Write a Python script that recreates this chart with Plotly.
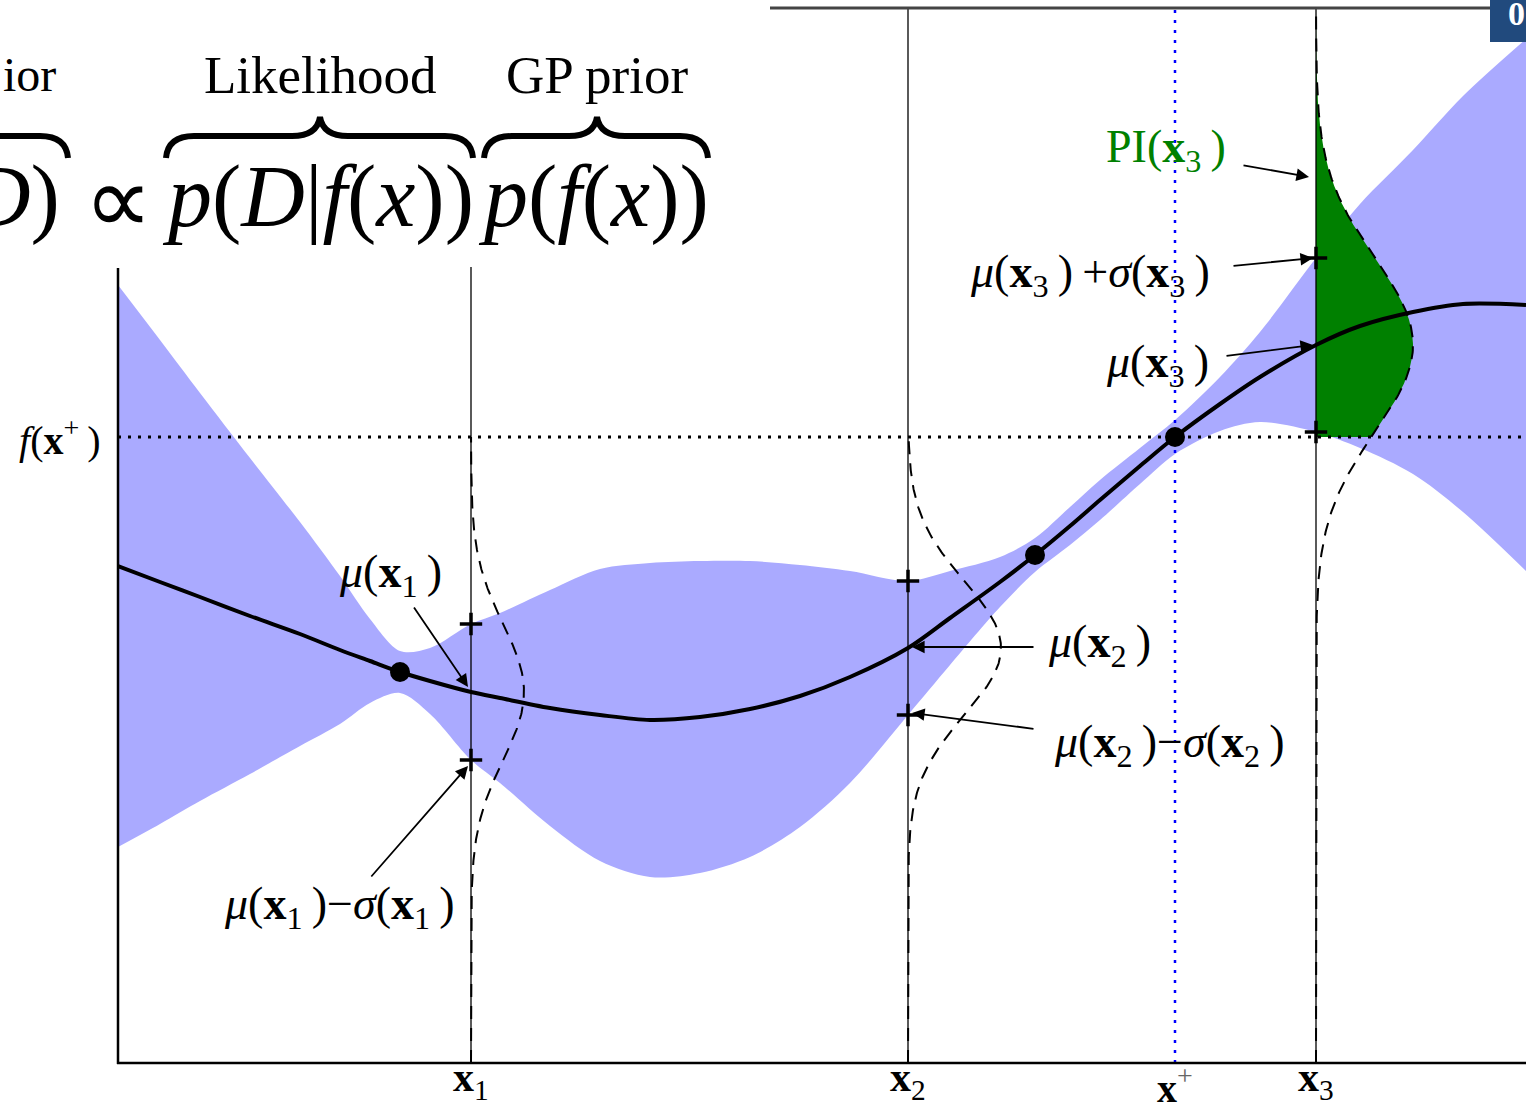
import numpy as np
import plotly.graph_objects as go

# ---------------- data ----------------
# GP posterior: grid positions, posterior mean and standard deviation
x_grid = [0.00, 0.42, 0.82, 1.32, 1.82, 2.22, 2.52, 2.82, 3.12, 3.53, 3.82, 4.32, 4.82,
          5.32, 5.82, 6.32, 6.82, 7.32, 7.90, 8.32, 8.82, 9.17, 9.52, 9.82, 10.22, 10.57,
          11.02, 11.42, 11.98, 12.42, 12.95, 13.45, 14.08]
mean_f = [4.97, 4.81, 4.66, 4.47, 4.29, 4.13, 4.02, 3.91, 3.82, 3.71, 3.65, 3.55, 3.48,
          3.43, 3.46, 3.54, 3.67, 3.86, 4.15, 4.45, 4.81, 5.08, 5.37, 5.63, 5.97, 6.26,
          6.59, 6.86, 7.18, 7.37, 7.51, 7.59, 7.58]
sigma_f = [2.81, 2.42, 2.04, 1.58, 1.12, 0.74, 0.42, 0.21, 0.33, 0.68, 0.85, 1.18, 1.46,
           1.57, 1.56, 1.48, 1.31, 1.06, 0.67, 0.47, 0.25, 0.17, 0.19, 0.20, 0.18, 0.17,
           0.27, 0.45, 0.87, 1.22, 1.62, 2.08, 2.66]

# observations
obs_x = [2.82, 9.17, 10.57]
obs_y = [3.91, 5.08, 6.26]

# candidate points x1, x2, x3
cand_labels = ["<b>x</b><sub>1</sub>", "<b>x</b><sub>2</sub>", "<b>x</b><sub>3</sub>"]
cand_x = [3.53, 7.90, 11.98]
cand_mu = [3.71, 4.15, 7.18]
cand_sigma = [0.68, 0.67, 0.87]
cand_pdf_width = [0.53, 0.93, 0.97]

# incumbent
x_best = 10.57
f_best = 6.26
best_label = "<b>x</b><sup><span style='color:#666'>+</span></sup>"

x_max = 14.08
y_max = 10.55

# ---------------- layout constants ----------------
W, H = 1526, 1111
ML, MR, MT, MB = 118, 0, 8, 48
SERIF = "Liberation Serif, Times New Roman, serif"
BAND = "#aaaaff"
GREEN = "#008000"


def PX(px):
    return (px - ML) / (W - ML - MR)


def PY(py):
    return (H - MB - py) / (H - MT - MB)


xg = np.array(x_grid)
mu = np.array(mean_f)
sd = np.array(sigma_f)

fig = go.Figure()

# uncertainty band
fig.add_trace(go.Scatter(x=xg, y=mu - sd, mode="lines",
                         line=dict(width=0, shape="spline", smoothing=0.9), hoverinfo="skip"))
fig.add_trace(go.Scatter(x=xg, y=mu + sd, mode="lines",
                         line=dict(width=0, shape="spline", smoothing=0.9), fill="tonexty",
                         fillcolor=BAND, hoverinfo="skip"))


def pdf_curve(i, y):
    g = np.exp(-0.5 * ((y - cand_mu[i]) / cand_sigma[i]) ** 2)
    return cand_x[i] + cand_pdf_width[i] * g


# PI area for x3 (tail of the predictive density above f(x+))
yy = np.linspace(f_best, y_max, 300)
xx = pdf_curve(2, yy)
fig.add_trace(go.Scatter(x=np.concatenate([xx, [cand_x[2], cand_x[2]]]),
                         y=np.concatenate([yy, [y_max, f_best]]),
                         mode="lines", line=dict(width=0), fill="toself",
                         fillcolor=GREEN, hoverinfo="skip"))

# f(x+) dotted line
fig.add_trace(go.Scatter(x=[0, x_max], y=[f_best, f_best], mode="lines",
                         line=dict(color="black", width=3, dash="3px,7px")))

# vertical lines at candidates
for cx in cand_x:
    fig.add_trace(go.Scatter(x=[cx, cx], y=[0, y_max], mode="lines",
                             line=dict(color="black", width=1.3)))

# x+ blue dotted line
fig.add_trace(go.Scatter(x=[x_best, x_best], y=[0, y_max], mode="lines",
                         line=dict(color="#0000ff", width=2.5, dash="3px,7px")))

# predictive densities (dashed)
for i in range(3):
    top = y_max if i == 2 else f_best
    yv = np.linspace(0, top, 500)
    fig.add_trace(go.Scatter(x=pdf_curve(i, yv), y=yv, mode="lines",
                             line=dict(color="black", width=2, dash="13px,9px")))

# posterior mean
fig.add_trace(go.Scatter(x=xg, y=mu, mode="lines",
                         line=dict(color="black", width=4, shape="spline", smoothing=0.9)))

# mu +/- sigma markers
pm_x, pm_y = [], []
for i in range(3):
    pm_x += [cand_x[i], cand_x[i]]
    pm_y += [cand_mu[i] + cand_sigma[i], cand_mu[i] - cand_sigma[i]]
fig.add_trace(go.Scatter(x=pm_x, y=pm_y, mode="markers",
                         marker=dict(symbol="cross-thin", size=16,
                                     line=dict(color="black", width=3.5))))

# observations
fig.add_trace(go.Scatter(x=obs_x, y=obs_y, mode="markers",
                         marker=dict(color="black", size=20)))

# ---------------- frame & overlay shapes ----------------
shapes = []
ln = dict(color="black", width=2.5)
shapes.append(dict(type="line", xref="paper", yref="paper",
                   x0=PX(118), x1=PX(118), y0=PY(268), y1=PY(1064), line=ln))
shapes.append(dict(type="line", xref="paper", yref="paper",
                   x0=PX(117), x1=PX(1530), y0=PY(1063), y1=PY(1063), line=ln))
shapes.append(dict(type="line", xref="paper", yref="paper",
                   x0=PX(770), x1=PX(1492), y0=PY(8), y1=PY(8),
                   line=dict(color="#444", width=3)))
# white area of the equation image (covers top-left)
shapes.append(dict(type="rect", xref="paper", yref="paper", layer="above",
                   x0=PX(-5), x1=PX(770), y0=PY(267), y1=PY(-5),
                   fillcolor="white", line=dict(width=0)))


def brace(x0, x1, xm, ybar, yend, ytip, r=28):
    p = (f"M {PX(x0)},{PY(yend)} Q {PX(x0 + 2)},{PY(ybar)} {PX(x0 + r)},{PY(ybar)} "
         f"L {PX(xm - r)},{PY(ybar)} Q {PX(xm - 3)},{PY(ybar)} {PX(xm)},{PY(ytip)} "
         f"Q {PX(xm + 3)},{PY(ybar)} {PX(xm + r)},{PY(ybar)} "
         f"L {PX(x1 - r)},{PY(ybar)} Q {PX(x1 - 2)},{PY(ybar)} {PX(x1)},{PY(yend)}")
    return dict(type="path", xref="paper", yref="paper", layer="above", path=p,
                line=dict(color="black", width=6))


shapes.append(dict(type="path", xref="paper", yref="paper", layer="above",
                   path=(f"M {PX(-10)},{PY(136)} L {PX(40)},{PY(136)} "
                         f"Q {PX(66)},{PY(136)} {PX(68)},{PY(158)}"),
                   line=dict(color="black", width=6)))
shapes.append(brace(166, 473, 320, 136, 158, 117))
shapes.append(brace(484, 708, 597, 136, 158, 117))

# top-right slide badge
shapes.append(dict(type="rect", xref="paper", yref="paper", layer="above",
                   x0=PX(1490), x1=PX(1535), y0=PY(42), y1=PY(-5),
                   fillcolor="#214a7d", line=dict(width=0)))

# ---------------- annotations ----------------
ann = []


def text(px, py, s, size=46, color="black", xanchor="center", yanchor="middle"):
    ann.append(dict(x=PX(px), y=PY(py), xref="paper", yref="paper", text=s,
                    showarrow=False, xanchor=xanchor, yanchor=yanchor,
                    font=dict(family=SERIF, size=size, color=color)))


def arrow(hx, hy, tx, ty):
    ann.append(dict(x=PX(hx), y=PY(hy), xref="paper", yref="paper", text="",
                    showarrow=True, ax=tx - hx, ay=ty - hy, arrowhead=2,
                    arrowsize=1.4, arrowwidth=1.8, arrowcolor="black"))


T = "\u2009"
mu1 = f"<i>μ</i>(<b>x</b><sub>1</sub>{T})"
sg1 = f"<i>σ</i>(<b>x</b><sub>1</sub>{T})"
mu2 = f"<i>μ</i>(<b>x</b><sub>2</sub>{T})"
sg2 = f"<i>σ</i>(<b>x</b><sub>2</sub>{T})"
mu3 = f"<i>μ</i>(<b>x</b><sub>3</sub>{T})"
sg3 = f"<i>σ</i>(<b>x</b><sub>3</sub>{T})"

text(60, 437, f"<i>f</i>(<b>x</b><sup>+</sup>{T})", size=40)
text(390, 575, mu1)
arrow(468, 687, 413, 606)
text(339, 907, f"{mu1}−{sg1}")
arrow(468, 766, 370, 878)
text(1099, 645, mu2)
arrow(912, 647, 1035, 647)
text(1169, 745, f"{mu2}−{sg2}")
arrow(912, 713, 1035, 729)
text(1157, 365, mu3)
arrow(1313, 345, 1225, 356)
text(1090, 275, f"{mu3}{T}+{sg3}")
arrow(1313, 258, 1232, 266)
text(1166, 150, f"PI(<b>x</b><sub>3</sub>{T})", color=GREEN)
arrow(1309, 177, 1242, 165)

# x tick labels
for cx, lab in zip(cand_x, cand_labels):
    ann.append(dict(x=cx, y=PY(1052), xref="x", yref="paper", text=lab,
                    showarrow=False, xanchor="center", yanchor="top",
                    font=dict(family=SERIF, size=42, color="black")))
ann.append(dict(x=x_best, y=PY(1058), xref="x", yref="paper", text=best_label,
                showarrow=False, xanchor="center", yanchor="top",
                font=dict(family=SERIF, size=40, color="black")))

# equation image text
text(1, 75, "ior", size=48, xanchor="left")
text(320, 75, "Likelihood", size=53)
text(597, 75, "GP prior", size=53)
text(62, 197, "<i>D</i>)", size=88, xanchor="right")
text(118, 200, "∝", size=96)
text(318, 197, "<i>p</i>(<i>D</i>|<i>f</i>(<i>x</i>))", size=88)
text(593, 197, "<i>p</i>(<i>f</i>(<i>x</i>))", size=88)
text(1506, 14, "<b>0</b>", size=34, color="white", xanchor="left")

fig.update_layout(
    width=W, height=H, margin=dict(l=ML, r=MR, t=MT, b=MB, pad=0),
    paper_bgcolor="white", plot_bgcolor="white", showlegend=False,
    xaxis=dict(range=[0, x_max], visible=False, fixedrange=True),
    yaxis=dict(range=[0, y_max], visible=False, fixedrange=True),
    shapes=shapes, annotations=ann,
)

fig.write_html("out.html", config={"displayModeBar": False},
               post_script="document.body.style.margin='0px';document.body.style.overflow='hidden';")
